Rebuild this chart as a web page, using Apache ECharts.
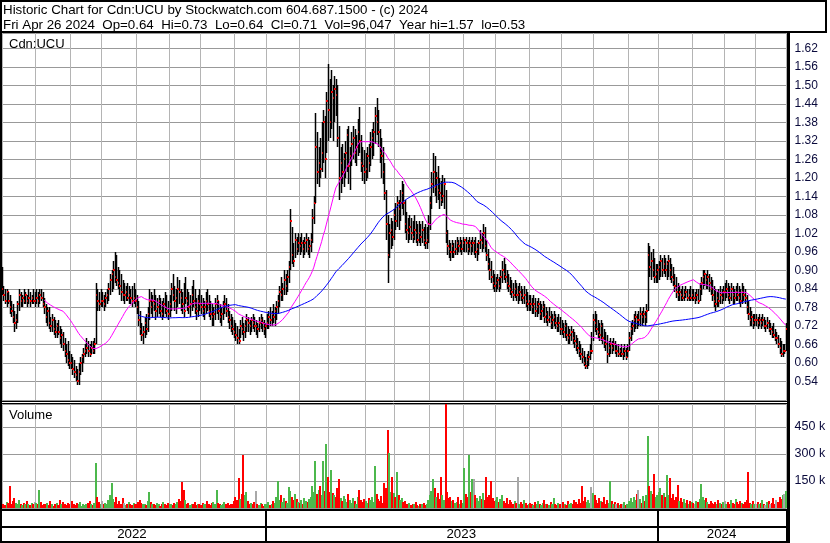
<!DOCTYPE html>
<html><head><meta charset="utf-8">
<script src="https://cdn.jsdelivr.net/npm/echarts/dist/echarts.min.js"></script>
<style>html,body{margin:0;padding:0;background:#fff}#c{width:830px;height:543px}</style>
</head><body><div id="c"></div>
<script>
// ---- data (one inner array per month of trading days) ----
const months = ['2022-04','2022-05','2022-06','2022-07','2022-08','2022-09','2022-10','2022-11','2022-12',
  '2023-01','2023-02','2023-03','2023-04','2023-05','2023-06','2023-07','2023-08','2023-09','2023-10','2023-11','2023-12',
  '2024-01','2024-02','2024-03','2024-04'];
const yearLabels = ['2022','2023','2024'];

const high = [
 [.91,.92,.91],
 [.85,.84,.84,.83,.82,.80,.79,.77,.76,.80,.84,.83,.82,.84,.83,.82,.84,.83,.82,.84,.83],
 [.84,.83,.84,.84,.83,.81,.79,.78,.78,.75,.76,.75,.74,.73,.74,.72,.71,.70,.68,.66,.67,.64],
 [.63,.62,.61,.59,.58,.60,.62,.63,.65,.66,.68,.67,.66,.67,.67,.68,.86,.84,.83,.84],
 [.83,.82,.83,.84,.86,.89,.90,.93,.96,.95,.91,.90,.89,.87,.86,.85,.86,.85,.84,.85,.86,.84],
 [.82,.80,.77,.73,.72,.75,.76,.78,.84,.83,.82,.84,.82,.81,.82,.81,.80,.81,.83,.82,.80],
 [.82,.86,.89,.85,.84,.88,.87,.84,.83,.86,.88,.84,.83,.82,.85,.87,.84,.81,.82,.84],
 [.82,.81,.80,.83,.84,.82,.80,.79,.78,.81,.82,.80,.79,.78,.80,.82,.81,.79,.77,.76,.75,.74],
 [.73,.72,.71,.74,.75,.73,.74,.76,.75,.74,.75,.76,.75,.74,.73,.75,.76,.75,.74,.73],
 [.76,.77,.78,.77,.79,.78,.80,.82,.85,.88,.86,.90,.89,.90,.93,1.10,1.04,.99,1.02,1.01,1.02],
 [1.01,1.02,1.00,1.01,1.02,1.01,1.00,1.02,1.10,1.14,1.41,1.35,1.30,1.33,1.38,1.42,1.40,1.48,1.57],
 [1.52,1.55,1.50,1.53,1.52,1.50,1.37,1.30,1.31,1.28,1.32,1.36,1.37,1.30,1.35,1.37,1.36,1.34,1.39,1.43,1.34,1.30,1.29],
 [1.28,1.30,1.31,1.35,1.36,1.38,1.43,1.46,1.42,1.36,1.33,1.30,1.25,1.16,1.08,1.05,1.07,1.06,1.10],
 [1.12,1.14,1.13,1.16,1.19,1.18,1.13,1.09,1.07,1.08,1.07,1.06,1.08,1.06,1.05,1.06,1.05,1.06,1.04,1.05,1.04,1.08],
 [1.14,1.22,1.28,1.27,1.22,1.24,1.20,1.19,1.21,1.20,1.16,1.03,1.00,.99,1.00,.99,1.00,1.01,1.00,1.01,1.00,1.01],
 [1.00,1.01,1.00,1.01,1.00,1.01,1.00,1.01,.99,1.00,1.03,1.02,1.05,1.04,1.00,.97,.94,.93,.90,.89],
 [.88,.89,.88,.90,.93,.94,.92,.90,.89,.88,.87,.86,.87,.86,.85,.86,.85,.84,.85,.84,.83,.82],
 [.82,.81,.82,.81,.80,.81,.80,.79,.80,.79,.78,.77,.78,.77,.76,.77,.76,.75,.76,.75],
 [.74,.73,.74,.73,.72,.71,.72,.71,.70,.69,.68,.67,.66,.65,.64,.62,.63,.64,.66,.70,.76],
 [.77,.76,.74,.73,.74,.73,.71,.70,.69,.67,.68,.67,.68,.67,.66,.66,.65,.66,.65,.66,.65,.66],
 [.70,.73,.74,.76,.77,.76,.77,.78,.77,.78,.77,.79,.99,.98,.96,.97,.94,.92,.92],
 [.93,.95,.94,.95,.94,.93,.95,.94,.92,.91,.89,.88,.86,.85,.84,.85,.84,.85,.84,.84,.85,.84],
 [.84,.83,.84,.84,.86,.88,.90,.90,.89,.90,.89,.88,.87,.85,.84,.83,.84,.85,.84,.85],
 [.86,.87,.86,.85,.86,.85,.84,.85,.86,.85,.84,.86,.85,.84,.82,.80,.78,.77,.76,.76],
 [.76,.75,.76,.75,.76,.75,.74,.75,.74,.73,.72,.73,.71,.70,.69,.68,.67,.66,.66,.73]
];
const low = [
 [.85,.86,.82],
 [.80,.79,.78,.79,.76,.75,.73,.70,.71,.73,.77,.78,.78,.79,.79,.78,.79,.78,.79,.79,.78],
 [.79,.78,.79,.80,.78,.76,.73,.72,.71,.70,.70,.69,.68,.68,.69,.66,.65,.64,.62,.60,.59,.58],
 [.58,.56,.55,.54,.53,.53,.56,.57,.60,.62,.63,.62,.62,.63,.63,.63,.66,.77,.77,.78],
 [.78,.77,.78,.79,.80,.82,.83,.84,.86,.85,.84,.82,.80,.80,.79,.80,.80,.79,.79,.78,.79,.78],
 [.76,.72,.69,.67,.66,.68,.69,.70,.74,.76,.75,.77,.74,.75,.76,.75,.74,.75,.76,.75,.74],
 [.75,.77,.80,.77,.76,.78,.79,.77,.76,.75,.79,.77,.76,.75,.77,.78,.76,.74,.75,.77],
 [.76,.75,.74,.76,.77,.75,.74,.72,.72,.74,.76,.74,.73,.72,.74,.76,.75,.73,.71,.70,.69,.68],
 [.67,.66,.66,.68,.69,.67,.68,.70,.70,.69,.70,.71,.70,.69,.68,.70,.71,.70,.69,.68],
 [.71,.71,.72,.72,.73,.72,.74,.76,.78,.80,.80,.82,.82,.83,.86,.90,.92,.91,.94,.95,.96],
 [.95,.96,.94,.95,.96,.95,.94,.96,.99,1.05,1.12,1.18,1.17,1.20,1.22,1.25,1.20,1.28,1.32],
 [1.33,1.36,1.32,1.38,1.40,1.30,1.13,1.15,1.18,1.17,1.20,1.22,1.18,1.16,1.24,1.26,1.25,1.24,1.27,1.28,1.22,1.19,1.18],
 [1.19,1.20,1.22,1.24,1.26,1.27,1.31,1.34,1.30,1.25,1.20,1.18,1.13,1.00,.86,.94,.97,.98,1.00],
 [1.03,1.04,1.03,1.06,1.10,1.08,1.02,1.00,.99,1.00,1.00,.99,1.00,.99,.98,.99,.98,.99,.98,.97,.97,.99],
 [1.03,1.10,1.15,1.14,1.12,1.13,1.10,1.11,1.12,1.10,.99,.95,.94,.93,.94,.94,.95,.95,.96,.96,.95,.96],
 [.96,.96,.95,.96,.95,.96,.95,.94,.93,.95,.97,.96,.97,.96,.93,.90,.87,.86,.84,.83],
 [.83,.84,.83,.84,.86,.87,.86,.84,.83,.82,.81,.80,.81,.80,.79,.80,.80,.79,.79,.78,.77,.77],
 [.77,.76,.76,.75,.75,.76,.74,.74,.75,.73,.73,.72,.73,.71,.71,.72,.71,.70,.70,.69],
 [.69,.68,.68,.67,.66,.66,.67,.66,.65,.64,.63,.62,.61,.60,.59,.58,.58,.59,.61,.63,.67],
 [.70,.69,.68,.67,.67,.66,.65,.64,.60,.62,.63,.63,.64,.63,.62,.62,.62,.62,.61,.62,.61,.62],
 [.64,.67,.69,.70,.71,.71,.72,.72,.72,.73,.72,.73,.77,.88,.87,.88,.86,.86,.86],
 [.87,.88,.88,.89,.88,.87,.88,.87,.86,.85,.83,.81,.80,.80,.80,.80,.80,.81,.80,.80,.80,.80],
 [.80,.79,.80,.79,.80,.82,.84,.85,.84,.84,.83,.82,.80,.78,.77,.78,.78,.79,.79,.80],
 [.80,.81,.80,.79,.80,.79,.79,.80,.80,.79,.78,.79,.80,.79,.76,.74,.72,.72,.71,.72],
 [.72,.71,.72,.71,.72,.71,.70,.71,.70,.69,.68,.68,.67,.66,.65,.63,.62,.62,.63,.64]
];
const close = [
 [.89,.90,.84],
 [.82,.80,.83,.80,.78,.77,.75,.73,.74,.79,.82,.80,.81,.80,.82,.80,.81,.80,.81,.80,.80],
 [.81,.80,.82,.81,.79,.78,.75,.77,.73,.72,.74,.71,.70,.72,.70,.68,.69,.66,.64,.63,.61,.60],
 [.60,.58,.57,.56,.54,.57,.60,.62,.63,.64,.65,.64,.63,.65,.64,.66,.82,.80,.79,.80],
 [.80,.79,.81,.82,.84,.87,.89,.90,.88,.87,.86,.85,.83,.82,.82,.83,.81,.82,.81,.80,.81,.80],
 [.78,.74,.71,.69,.70,.73,.71,.76,.80,.78,.80,.79,.77,.78,.80,.77,.76,.79,.78,.77,.76],
 [.79,.84,.82,.80,.81,.84,.83,.81,.79,.77,.81,.80,.78,.79,.82,.80,.78,.77,.80,.79],
 [.78,.77,.78,.80,.79,.77,.76,.75,.76,.79,.80,.77,.75,.76,.78,.79,.77,.75,.74,.72,.71,.70],
 [.69,.68,.67,.72,.71,.70,.72,.74,.73,.72,.74,.73,.72,.72,.71,.73,.74,.73,.71,.72],
 [.73,.75,.74,.76,.75,.77,.78,.80,.83,.82,.84,.87,.85,.88,.91,1.06,.95,.93,1.00,.97,.99],
 [.98,.99,.97,.99,1.00,.97,.98,1.00,1.07,1.12,1.30,1.22,1.25,1.23,1.28,1.38,1.26,1.45,1.42],
 [1.38,1.48,1.46,1.49,1.47,1.33,1.20,1.25,1.22,1.26,1.28,1.34,1.24,1.27,1.31,1.33,1.28,1.30,1.35,1.32,1.25,1.24,1.22],
 [1.23,1.27,1.25,1.30,1.33,1.35,1.40,1.38,1.35,1.28,1.27,1.22,1.15,1.05,.95,1.02,1.03,1.01,1.08],
 [1.06,1.12,1.10,1.12,1.15,1.12,1.05,1.03,1.02,1.04,1.02,1.01,1.03,1.02,1.00,1.02,1.01,1.03,1.00,.99,1.00,1.05],
 [1.12,1.18,1.22,1.17,1.20,1.16,1.15,1.13,1.14,1.18,1.02,.98,.97,.96,.98,.96,.97,.99,.98,.99,.97,.99],
 [1.00,.99,.97,.99,.98,.99,.99,.96,.97,.99,1.00,.99,1.02,.98,.95,.92,.90,.88,.86,.85],
 [.86,.87,.85,.88,.90,.89,.88,.86,.85,.84,.83,.82,.84,.82,.82,.83,.82,.81,.82,.80,.79,.80],
 [.79,.78,.79,.77,.78,.79,.76,.77,.78,.75,.76,.74,.75,.73,.74,.75,.73,.72,.73,.71],
 [.71,.70,.72,.69,.68,.69,.70,.68,.67,.66,.65,.64,.63,.62,.60,.59,.61,.62,.64,.64,.74],
 [.73,.71,.70,.69,.72,.68,.67,.66,.63,.65,.66,.65,.66,.64,.64,.63,.64,.63,.63,.64,.62,.64],
 [.68,.71,.72,.74,.75,.74,.74,.76,.75,.76,.75,.77,.95,.91,.93,.90,.88,.89,.90],
 [.91,.93,.90,.92,.90,.92,.93,.90,.88,.87,.85,.83,.82,.83,.82,.81,.82,.83,.81,.82,.81,.82],
 [.81,.81,.82,.80,.84,.86,.88,.89,.87,.88,.86,.84,.82,.80,.79,.81,.80,.82,.81,.83],
 [.83,.84,.82,.81,.84,.82,.81,.83,.82,.81,.80,.83,.82,.81,.78,.76,.74,.75,.73,.74],
 [.74,.73,.74,.73,.74,.72,.72,.73,.71,.71,.70,.69,.68,.68,.66,.65,.63,.64,.64,.71]
];
// daily volume, thousands of shares
const volumeK = [
 [95,30,25],
 [20,15,35,30,125,25,40,55,30,20,45,25,15,30,20,40,25,15,30,20,35],
 [30,20,100,35,15,25,20,30,15,40,20,10,25,30,15,45,20,35,25,15,30,20],
 [25,40,20,15,30,20,35,10,25,15,20,30,40,20,15,30,250,60,35,25],
 [40,25,30,20,45,75,140,50,35,60,25,40,20,55,30,15,25,35,20,15,30,25],
 [20,35,45,30,25,20,15,40,90,35,20,25,15,30,20,10,25,35,20,15,30],
 [20,25,15,30,20,35,50,40,147,100,45,20,30,15,25,20,35,15,20,25],
 [15,30,20,25,40,20,15,30,35,25,100,30,20,15,25,35,20,30,15,25,20,40],
 [60,45,165,50,80,295,70,90,40,25,30,20,35,96,25,15,30,20,10,25],
 [20,35,15,25,40,30,60,152,45,70,35,55,40,30,119,95,60,45,80,50,35],
 [30,45,25,55,40,35,50,60,120,90,260,80,100,125,75,260,95,356,170],
 [90,210,85,70,60,110,160,55,40,65,50,35,80,45,30,55,40,25,60,100,45,35,50],
 [40,30,55,45,60,35,232,80,50,40,65,30,137,110,435,305,90,172,85],
 [60,200,70,45,55,35,40,25,20,30,15,25,20,35,15,10,25,20,30,15,25,45],
 [70,95,160,110,60,85,50,175,75,45,620,90,55,60,40,45,30,35,60,25,45,30],
 [220,80,60,295,90,160,160,70,55,40,65,50,85,45,175,60,70,150,55,40],
 [45,60,35,50,70,40,30,55,25,45,35,20,40,30,175,25,35,20,45,30,15,25],
 [30,20,15,35,25,40,20,15,30,45,20,25,15,35,20,55,25,15,30,20],
 [25,35,20,15,40,25,30,20,45,35,25,50,30,125,40,60,35,45,30,119,85],
 [70,45,30,55,40,35,60,25,45,30,150,40,25,35,20,30,15,25,20,35,15,25],
 [40,55,35,60,45,80,100,50,30,65,40,70,398,120,95,80,187,60,75],
 [90,110,70,85,60,181,75,165,55,80,45,60,130,40,55,35,50,30,45,25,40,35],
 [30,25,40,35,50,136,60,45,55,35,25,40,30,20,35,25,45,30,20,35],
 [40,25,35,20,45,30,25,50,35,20,40,30,25,35,45,200,30,25,40,20],
 [25,35,20,30,45,25,15,35,40,20,30,55,25,45,35,60,50,75,80,96]
];
const maShort = 30, maLong = 90;

// ---- assemble ----
const cats = [], monthStart = new Set(), yearStart = new Set(), yearRange = {};
months.forEach((m, mi) => {
  const n = close[mi].length;
  if (high[mi].length !== n || low[mi].length !== n || volumeK[mi].length !== n) throw new Error('length mismatch in ' + m);
  const y = m.slice(0, 4);
  for (let k = 0; k < n; k++) {
    const idx = cats.length;
    if (k === 0) { monthStart.add(idx); if (m.endsWith('-01')) yearStart.add(idx); }
    if (!yearRange[y]) yearRange[y] = [idx, idx]; else yearRange[y][1] = idx;
    cats.push(m + '-' + (k + 1));
  }
});
const flat = a => a.reduce((r, x) => r.concat(x), []);
const H = flat(high), L = flat(low), C = flat(close), V = flat(volumeK);
const yearMid = new Set(yearLabels.map(y => Math.floor((yearRange[y][0] + yearRange[y][1]) / 2)));

function movingAverage(vals, p) {
  const out = []; let s = 0;
  for (let i = 0; i < vals.length; i++) {
    s += vals[i]; if (i >= p) s -= vals[i - p];
    out.push(i >= p - 1 ? +(s / p).toFixed(4) : null);
  }
  return out;
}
const ohlc = C.map((c, i) => [i, H[i], L[i], c]);
const vol = V.map((v, i) => [i, v, i === 0 ? 0 : (C[i] > C[i - 1] ? 1 : (C[i] < C[i - 1] ? -1 : 0))]);

const FONT = '"Liberation Sans", Arial, sans-serif';
const GRID = '#b4b4b4';
const HGRID = '#999999';
const chart = echarts.init(document.getElementById('c'), null, { renderer: 'canvas', width: 830, height: 543 });

function renderOHLC(params, api) {
  const i = api.value(0);
  const t = api.coord([i, api.value(1)]);
  const b = api.coord([i, api.value(2)]);
  const c = api.coord([i, api.value(3)]);
  const x = Math.round(t[0]);
  return { type: 'group', children: [
    { type: 'rect', shape: { x: x - 0.25, y: Math.round(t[1]), width: 1.5, height: Math.max(1, Math.round(b[1]) - Math.round(t[1])) }, style: { fill: '#000' } },
    { type: 'rect', shape: { x: x, y: Math.round(c[1]) - 1, width: 2, height: 2 }, style: { fill: '#ff0000' } }
  ]};
}
function renderVol(params, api) {
  const i = api.value(0);
  const t = api.coord([i, api.value(1)]);
  const b = api.coord([i, 0]);
  const top = Math.max(params.coordSys.y, Math.round(t[1]));
  const x = Math.round(t[0]);
  const d = api.value(2);
  const col = d > 0 ? '#4cb84c' : (d < 0 ? '#ff0000' : '#a8a8a8');
  return { type: 'rect', shape: { x: x - 1, y: top, width: 2, height: Math.max(1, Math.round(b[1]) - top) }, style: { fill: col } };
}

const gridBase = { left: -2.1, right: 43.4, outerBoundsMode: 'none', containLabel: false };
const xBase = (g) => ({
  type: 'category', gridIndex: g, data: cats, boundaryGap: true,
  axisLine: { show: false }, axisTick: { show: false },
  axisLabel: { show: false },
  splitLine: { show: true, interval: (i) => monthStart.has(i), lineStyle: { color: GRID, width: 1, type: 'solid', opacity: 1 } }
});

const line = (x1, y1, x2, y2, w) => ({ type: 'line', silent: true, z: 100, shape: { x1, y1, x2, y2 }, style: { stroke: '#000', lineWidth: w } });
const text = (x, y, s, size) => ({ type: 'text', silent: true, z: 101, style: { x, y, text: s, fill: '#000', font: size + 'px ' + FONT, textAlign: 'left', textVerticalAlign: 'middle', align: 'left', verticalAlign: 'middle' } });

chart.setOption({
  animation: false,
  backgroundColor: '#ffffff',
  grid: [
    Object.assign({ top: 33, height: 367 }, gridBase),
    Object.assign({ top: 404, height: 104 }, gridBase),
    Object.assign({ top: 511, height: 30 }, gridBase)
  ],
  xAxis: [
    xBase(0),
    xBase(1),
    {
      type: 'category', gridIndex: 2, data: cats, boundaryGap: true, position: 'top',
      axisLine: { show: false }, axisTick: { show: false },
      axisLabel: { show: true, inside: true, margin: 17, interval: (i) => yearMid.has(i), formatter: (v) => v.slice(0, 4),
        color: '#000', fontFamily: FONT, fontSize: 13.3 },
      splitLine: { show: true, interval: (i) => yearStart.has(i), lineStyle: { color: '#000', width: 2 } }
    }
  ],
  yAxis: [
    { type: 'value', gridIndex: 0, position: 'right', min: 0.48, max: 1.67, interval: 0.06,
      axisLine: { show: false }, axisTick: { show: false },
      axisLabel: { margin: 8, color: '#0a0a3c', fontFamily: FONT, fontSize: 12, showMinLabel: false, showMaxLabel: false,
        formatter: (v) => v.toFixed(2) },
      splitLine: { show: true, lineStyle: { color: HGRID, width: 1, type: 'solid', opacity: 1 } } },
    { type: 'value', gridIndex: 1, position: 'right', min: 0, max: 578, interval: 150,
      axisLine: { show: false }, axisTick: { show: false },
      axisLabel: { margin: 8, color: '#0a0a3c', fontFamily: FONT, fontSize: 12.5, showMinLabel: false, showMaxLabel: false,
        formatter: (v) => v + ' k' },
      splitLine: { show: true, lineStyle: { color: HGRID, width: 1, type: 'solid', opacity: 1 } } },
    { type: 'value', gridIndex: 2, show: false, min: 0, max: 1 }
  ],
  series: [
    { type: 'custom', name: 'OHLC', xAxisIndex: 0, yAxisIndex: 0, data: ohlc, renderItem: renderOHLC,
      encode: { x: 0, y: [1, 2, 3] }, clip: true, z: 2, silent: true },
    { type: 'line', name: 'MA' + maShort, xAxisIndex: 0, yAxisIndex: 0, data: movingAverage(C, maShort),
      showSymbol: false, symbol: 'none', lineStyle: { color: '#ff00ff', width: 1 }, z: 3, silent: true },
    { type: 'line', name: 'MA' + maLong, xAxisIndex: 0, yAxisIndex: 0, data: movingAverage(C, maLong),
      showSymbol: false, symbol: 'none', lineStyle: { color: '#0000ff', width: 1 }, z: 3, silent: true },
    { type: 'custom', name: 'Volume', xAxisIndex: 1, yAxisIndex: 1, data: vol, renderItem: renderVol,
      encode: { x: 0, y: 1 }, clip: true, z: 2, silent: true }
  ],
  graphic: [
    { type: 'rect', silent: true, z: 100, shape: { x: 1, y: 1, width: 825, height: 31 }, style: { fill: 'none', stroke: '#000', lineWidth: 2 } },
    line(1, 32, 1, 543, 2),
    line(788.5, 32, 788.5, 543, 3),
    line(0, 401.5, 787, 401.5, 1),
    line(0, 403.5, 787, 403.5, 1),
    line(0, 510, 787, 510, 2),
    line(0, 527, 787, 527, 2),
    line(0, 542, 787, 542, 2),
    text(3, 10.5, 'Historic Chart for Cdn:UCU by Stockwatch.com 604.687.1500 - (c) 2024', 13.33),
    text(3, 25, 'Fri Apr 26 2024  Op=0.64  Hi=0.73  Lo=0.64  Cl=0.71  Vol=96,047  Year hi=1.57  lo=0.53', 13.33),
    text(9, 44, 'Cdn:UCU', 13),
    text(9, 415, 'Volume', 13)
  ]
});
</script></body></html>
